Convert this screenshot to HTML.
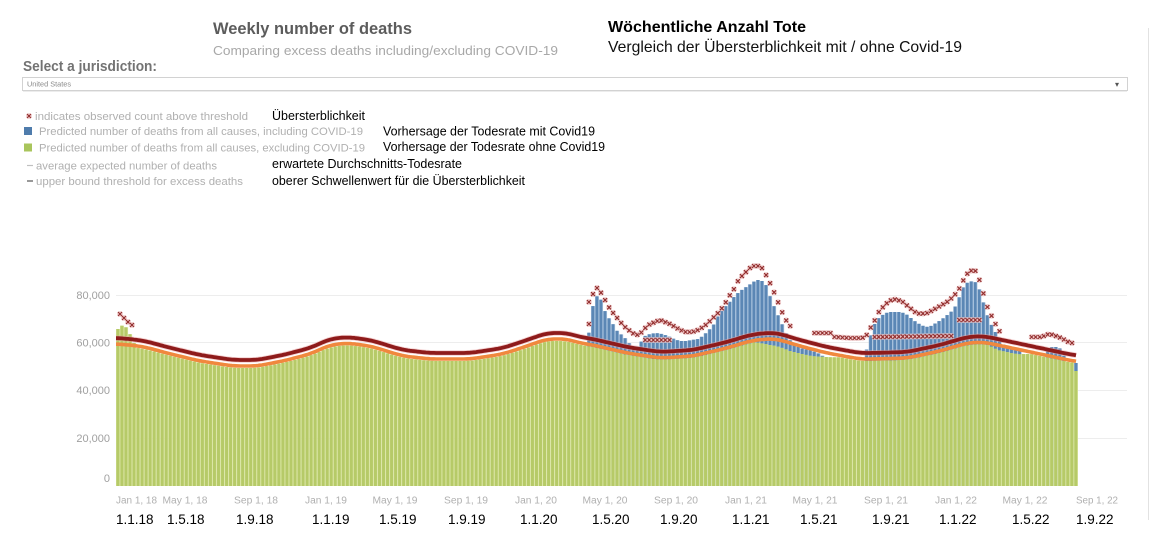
<!DOCTYPE html>
<html><head><meta charset="utf-8">
<style>
html,body{margin:0;padding:0;background:#fff;overflow:hidden;}
svg{display:block;}
</style></head>
<body>
<svg id="c" width="1152" height="539" xmlns="http://www.w3.org/2000/svg" font-family="'Liberation Sans', Arial, sans-serif">
<rect x="0" y="0" width="1152" height="539" fill="#fff"/>
<line x1="1148.5" y1="28" x2="1148.5" y2="520" stroke="#e2e2e2" stroke-width="1"/>

<text x="213" y="34" font-size="16.5" font-weight="bold" fill="#5c5c5c" textLength="199" lengthAdjust="spacingAndGlyphs">Weekly number of deaths</text>
<text x="213" y="55" font-size="13" fill="#a8a8a8" textLength="345" lengthAdjust="spacingAndGlyphs">Comparing excess deaths including/excluding COVID-19</text>
<text x="608" y="32" font-size="16" font-weight="bold" fill="#000" textLength="198" lengthAdjust="spacingAndGlyphs">Wöchentliche Anzahl Tote</text>
<text x="608" y="52" font-size="16" fill="#111" textLength="354" lengthAdjust="spacingAndGlyphs">Vergleich der Übersterblichkeit mit / ohne Covid-19</text>

<text x="23" y="71" font-size="14.5" font-weight="bold" fill="#737373" textLength="134" lengthAdjust="spacingAndGlyphs">Select a jurisdiction:</text>
<rect x="22.5" y="77.5" width="1105" height="13" fill="#fff" stroke="#d2d2d2" stroke-width="1"/>
<line x1="23" y1="91.5" x2="1127" y2="91.5" stroke="#ececec" stroke-width="1"/>
<text x="27" y="86.5" font-size="7.5" fill="#8a8a8a" textLength="44" lengthAdjust="spacingAndGlyphs">United States</text>
<text x="1115" y="87" font-size="8" fill="#555">▾</text>

<g font-size="11" fill="#b0b0b0">
<text x="35" y="120" textLength="213" lengthAdjust="spacingAndGlyphs">indicates observed count above threshold</text>
<rect x="24" y="127" width="8" height="8" fill="#4f7cac"/>
<text x="39" y="135" textLength="324" lengthAdjust="spacingAndGlyphs">Predicted number of deaths from all causes, including COVID-19</text>
<rect x="24" y="143.5" width="8" height="8" fill="#a9c55c"/>
<text x="39" y="151.5" textLength="326" lengthAdjust="spacingAndGlyphs">Predicted number of deaths from all causes, excluding COVID-19</text>
<line x1="27" y1="165.5" x2="33" y2="165.5" stroke="#c0c0c0" stroke-width="1.2"/>
<text x="36" y="169.5" textLength="181" lengthAdjust="spacingAndGlyphs">average expected number of deaths</text>
<line x1="27" y1="181" x2="33" y2="181" stroke="#999" stroke-width="2"/>
<text x="36" y="185" textLength="207" lengthAdjust="spacingAndGlyphs">upper bound threshold for excess deaths</text>
</g>
<g id="legstar"></g>

<g font-size="12.5" fill="#000">
<text x="272" y="120" textLength="93" lengthAdjust="spacingAndGlyphs">Übersterblichkeit</text>
<text x="383" y="135.5" textLength="212" lengthAdjust="spacingAndGlyphs">Vorhersage der Todesrate mit Covid19</text>
<text x="383" y="151" textLength="222" lengthAdjust="spacingAndGlyphs">Vorhersage der Todesrate ohne Covid19</text>
<text x="272" y="168" textLength="190" lengthAdjust="spacingAndGlyphs">erwartete Durchschnitts-Todesrate</text>
<text x="272" y="185" textLength="253" lengthAdjust="spacingAndGlyphs">oberer Schwellenwert für die Übersterblichkeit</text>
</g>

<g stroke="#ededed" stroke-width="1">
<line x1="116" y1="295.5" x2="1127" y2="295.5"/>
<line x1="116" y1="342.5" x2="1127" y2="342.5"/>
<line x1="116" y1="390.5" x2="1127" y2="390.5"/>
<line x1="116" y1="438.5" x2="1127" y2="438.5"/>
</g>

<g font-size="11" fill="#a0a0a0" text-anchor="end">
<text x="110" y="299">80,000</text>
<text x="110" y="346.5">60,000</text>
<text x="110" y="394">40,000</text>
<text x="110" y="442">20,000</text>
<text x="110" y="482">0</text>
</g>

<g id="bars"></g>
<g id="lines"></g>
<g id="stars"></g>

<g font-size="10" fill="#b0b0b0" text-anchor="middle">
<text x="116" y="503.5" text-anchor="start" textLength="41" lengthAdjust="spacingAndGlyphs">Jan 1, 18</text>
<text x="185" y="503.5" textLength="45" lengthAdjust="spacingAndGlyphs">May 1, 18</text>
<text x="256" y="503.5" textLength="44" lengthAdjust="spacingAndGlyphs">Sep 1, 18</text>
<text x="326" y="503.5" textLength="42" lengthAdjust="spacingAndGlyphs">Jan 1, 19</text>
<text x="395" y="503.5" textLength="45" lengthAdjust="spacingAndGlyphs">May 1, 19</text>
<text x="466" y="503.5" textLength="44" lengthAdjust="spacingAndGlyphs">Sep 1, 19</text>
<text x="536" y="503.5" textLength="42" lengthAdjust="spacingAndGlyphs">Jan 1, 20</text>
<text x="605" y="503.5" textLength="45" lengthAdjust="spacingAndGlyphs">May 1, 20</text>
<text x="676" y="503.5" textLength="44" lengthAdjust="spacingAndGlyphs">Sep 1, 20</text>
<text x="746" y="503.5" textLength="42" lengthAdjust="spacingAndGlyphs">Jan 1, 21</text>
<text x="815" y="503.5" textLength="45" lengthAdjust="spacingAndGlyphs">May 1, 21</text>
<text x="886" y="503.5" textLength="44" lengthAdjust="spacingAndGlyphs">Sep 1, 21</text>
<text x="956" y="503.5" textLength="42" lengthAdjust="spacingAndGlyphs">Jan 1, 22</text>
<text x="1025" y="503.5" textLength="45" lengthAdjust="spacingAndGlyphs">May 1, 22</text>
<text x="1097" y="503.5" textLength="42" lengthAdjust="spacingAndGlyphs">Sep 1, 22</text>
</g>

<g font-size="13.5" fill="#000">
<text x="116" y="524">1.1.18</text>
<text x="167" y="524">1.5.18</text>
<text x="236" y="524">1.9.18</text>
<text x="312" y="524">1.1.19</text>
<text x="379" y="524">1.5.19</text>
<text x="448" y="524">1.9.19</text>
<text x="520" y="524">1.1.20</text>
<text x="592" y="524">1.5.20</text>
<text x="660" y="524">1.9.20</text>
<text x="732" y="524">1.1.21</text>
<text x="800" y="524">1.5.21</text>
<text x="872" y="524">1.9.21</text>
<text x="939" y="524">1.1.22</text>
<text x="1012" y="524">1.5.22</text>
<text x="1076" y="524">1.9.22</text>
</g>
</svg>
<script>
(function(){
const NS="http://www.w3.org/2000/svg";
function el(tag,attrs,parent){const e=document.createElementNS(NS,tag);for(const k in attrs)e.setAttribute(k,attrs[k]);parent.appendChild(e);return e;}
function ip(P,x){if(x<=P[0][0])return P[0][1];for(let i=1;i<P.length;i++){if(x<=P[i][0]){const a=P[i-1],b=P[i];return a[1]+(b[1]-a[1])*(x-a[0])/(b[0]-a[0]);}}return P[P.length-1][1];}
const R=[[100,338],[116,338],[130,339],[145,341],[167,347],[200,355],[233,360],[257,360],[283,355],[310,348],[330,339],[347,337],[370,340],[403,350],[430,353],[470,353],[503,348],[527,340],[547,333],[567,333],[580,337],[593,339],[610,343],[627,347],[660,352],[693,350],[727,342],[750,335],[765,333],[777,333],[800,340],[827,347],[860,353],[873,353],[907,352],[940,345],[967,337],[983,336],[1007,341],[1040,348],[1073,355],[1090,357]];
function rs(x){let s=0,n=0;for(let d=-8;d<=8;d+=2){s+=ip(R,x+d);n++;}return s/n;}
const DIP=[[0,0],[755,0],[770,4],[790,6],[812,5],[828,2],[840,0],[988,0],[998,3],[1018,3],[1030,0],[2000,0]];
const G0=[[116,331],[119,328],[123,325],[127,328],[131,336],[135,345],[140,400]];
const BS=[
[[588,346],[590,318],[593,306],[596,297],[599,295],[602,302],[605,311],[608,317],[612,322],[615,328],[618,332],[622,335],[625,338],[629,343],[633,346],[637,347],[641,342],[645,336],[650,334],[656,333],[662,334],[668,336],[674,339],[680,341],[686,341],[692,340],[698,339],[703,336],[708,331],[713,326],[718,316],[723,309],[728,304],[733,298],[738,293],[743,289],[748,286],[753,282],[758,280],[762,281],[766,285],[770,296],[774,306],[778,315],[782,324],[786,333],[790,340],[795,345],[800,348],[810,350],[820,354],[828,360]],
[[864,362],[867,348],[870,338],[873,327],[877,320],[881,316],[886,313],[891,312],[896,312],[901,312],[906,314],[911,318],[916,322],[921,325],[926,327],[931,326],[936,323],[941,320],[946,316],[951,312],[955,307],[959,298],[962,290],[965,284],[969,282],[973,281],[977,283],[980,291],[983,301],[986,311],[989,320],[992,326],[995,331],[998,337],[1001,342],[1005,346],[1012,348],[1020,351],[1026,356]],
[[1045,362],[1048,349],[1052,347],[1058,347],[1062,350],[1066,362]]
];
function blue(x){for(const s of BS){if(x>=s[0][0]&&x<=s[s.length-1][0])return ip(s,x);}return null;}
const gB=document.getElementById('bars'),gL=document.getElementById('lines'),gS=document.getElementById('stars');
const base=486,N=239,pitch=(1078-116)/N;
const centers=[];
for(let i=0;i<N;i++){
 const x0=116+i*pitch,xc=x0+pitch/2;centers.push(xc);
 let gt=rs(xc)+8+ip(DIP,xc);
 if(xc<140)gt=Math.min(gt,ip(G0,xc));
 let bt=blue(xc);
 if(i==N-1){gt=371;bt=363;}
 if(bt!==null&&bt<gt){
  el('rect',{x:x0.toFixed(2),y:bt.toFixed(1),width:pitch.toFixed(2),height:(base-bt).toFixed(1),fill:'#a9c3de'},gB);
  el('rect',{x:(x0+0.5).toFixed(2),y:bt.toFixed(1),width:(pitch-1.2).toFixed(2),height:(base-bt).toFixed(1),fill:'#5b87b5'},gB);
 }
 el('rect',{x:x0.toFixed(2),y:gt.toFixed(1),width:pitch.toFixed(2),height:(base-gt).toFixed(1),fill:'#d8e49f'},gB);
 el('rect',{x:(x0+0.4).toFixed(2),y:gt.toFixed(1),width:(pitch-1.1).toFixed(2),height:(base-gt).toFixed(1),fill:'#b6ca68'},gB);
}
let po=[],pr=[];
for(let x=116;x<=1076;x+=2){const y=rs(x);pr.push(x+','+y.toFixed(1));po.push(x+','+(y+6).toFixed(1));}
el('polyline',{points:po.join(' '),fill:'none',stroke:'#f0883e','stroke-width':3.6,'stroke-linejoin':'round'},gL);
el('polyline',{points:pr.join(' '),fill:'none',stroke:'#e9a3a3','stroke-width':5.5,'stroke-linejoin':'round','stroke-opacity':0.5},gL);
el('polyline',{points:pr.join(' '),fill:'none',stroke:'#8e1b1b','stroke-width':3.8,'stroke-linejoin':'round'},gL);
function star(x,y,p){
 el('circle',{cx:x.toFixed(1),cy:y.toFixed(1),r:3,fill:'#efc4c4','fill-opacity':0.8},p);
 el('path',{d:'M'+(x-2).toFixed(1)+','+(y-2).toFixed(1)+'l4,4M'+(x-2).toFixed(1)+','+(y+2).toFixed(1)+'l4,-4',stroke:'#932f2f','stroke-width':1.2,fill:'none'},p);
}
const SS=[
[[589,324],[589.5,324]],
[[591,302],[595,286],[599,290],[602,294],[606,302],[610,309],[614,314],[618,319],[622,324],[626,328],[630,331],[634,334],[638,335],[642,332],[646,327],[650,324],[655,322],[660,320],[665,322],[670,324],[675,327],[680,330],[686,332],[692,332],[698,330],[703,327],[708,323],[713,318],[718,313],[722,308],[726,302],[730,295],[734,289],[738,281],[742,276],[746,272],[750,268],[754,266],[758,266],[762,268],[766,275],[770,283],[774,292],[778,302],[782,312],[786,320],[789,326]],
[[645,340],[669,340]],
[[815,333],[830,333]],
[[836,337],[850,338],[862,338],[866,336],[869,331],[872,325],[875,320],[878,313],[883,307],[888,302],[893,299],[898,300],[903,302],[910,308],[915,312],[920,314],[927,313],[933,310],[940,306],[947,302],[953,297],[958,291],[962,283],[966,275],[970,271],[974,270],[977,272],[980,282],[983,292],[987,306],[992,317],[997,327],[1000,332]],
[[873,337],[950,336]],
[[958,320],[978,320]],
[[1033,337],[1041,337],[1049,334],[1053,335],[1061,338],[1065,340],[1070,343]]
];
for(const s of SS){
 const a=s[0][0]-2.1,b=s[s.length-1][0]+2.1;let any=false;
 for(const xc of centers){if(xc>=a&&xc<=b){star(xc,ip(s,xc),gS);any=true;}}
 if(!any)star(s[0][0],s[0][1],gS);
}
star(120,314,gS);star(124,318,gS);star(128,322,gS);star(132,325,gS);
star(29,116,document.getElementById('legstar'));
})();
</script>
</body></html>
